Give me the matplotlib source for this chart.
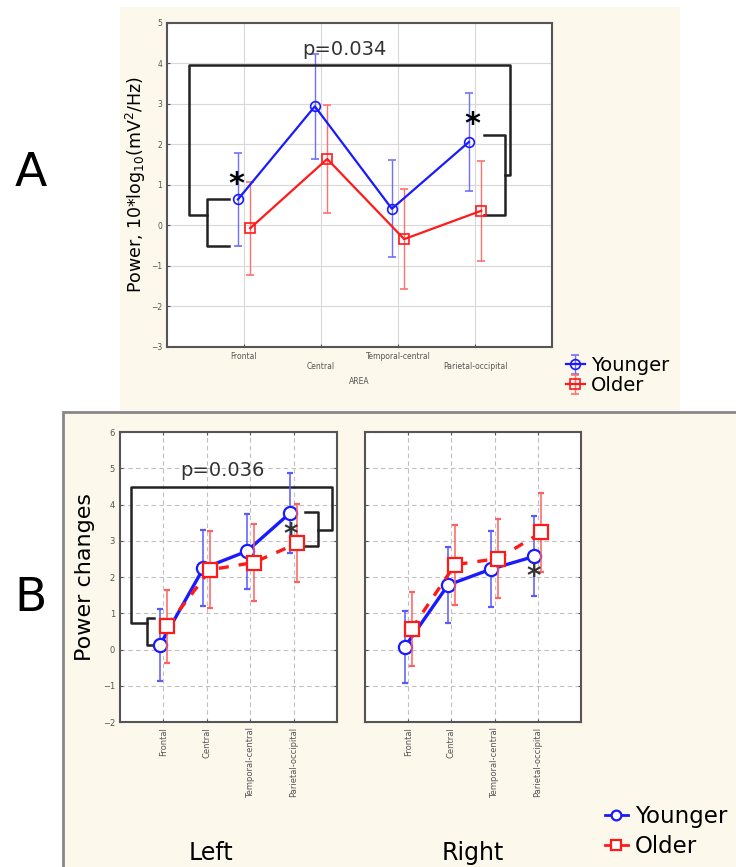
import numpy as np
import matplotlib
matplotlib.use('Agg')
import matplotlib.pyplot as plt
from matplotlib.patches import Rectangle
from matplotlib.lines import Line2D

plt.rcParams['font.family'] = ['DejaVu Sans']

# data
areas = ['Frontal', 'Central', 'Temporal-central', 'Parietal-occipital']
a_young = [0.64, 2.94, 0.41, 2.06]
a_young_err = [1.15, 1.30, 1.20, 1.20]
a_old = [-0.07, 1.64, -0.34, 0.36]
a_old_err = [1.15, 1.33, 1.23, 1.24]

bl_young = [0.12, 2.24, 2.71, 3.77]
bl_young_err = [1.00, 1.05, 1.03, 1.10]
bl_old = [0.64, 2.20, 2.40, 2.93]
bl_old_err = [1.00, 1.06, 1.07, 1.08]

br_young = [0.07, 1.78, 2.22, 2.57]
br_young_err = [1.00, 1.05, 1.05, 1.10]
br_old = [0.57, 2.34, 2.51, 3.23]
br_old_err = [1.03, 1.10, 1.10, 1.10]

cream = '#fdf8ec'
blue = '#1a1aff'
red = '#ff1a1a'
tick_col = '#555555'

fig = plt.figure(figsize=(7.36, 8.67), dpi=100)
fig.patches.append(Rectangle((0.163, 0.527), 0.761, 0.465, transform=fig.transFigure,
                             facecolor=cream, edgecolor='none', zorder=-10))
fig.patches.append(Rectangle((0.0856, -0.01), 0.93, 0.5348, transform=fig.transFigure,
                             facecolor=cream, edgecolor='#888888', lw=2, zorder=-10))

x = np.arange(1, 5)
off = 0.08

# ---------- panel A
axA = fig.add_axes([0.227, 0.600, 0.523, 0.3735])
axA.grid(True, color='#d8d8d8', lw=0.8)
axA.set_axisbelow(True)
ey = axA.errorbar(x - off, a_young, yerr=a_young_err, color=blue, marker='o', ms=7,
                  mfc='none', mew=1.2, lw=1.6, ecolor='#7070ff', elinewidth=1.0,
                  capsize=3, label='Younger')
eo = axA.errorbar(x + off, a_old, yerr=a_old_err, color=red, marker='s', ms=7,
                  mfc='none', mew=1.2, lw=1.6, ecolor='#ff7070', elinewidth=1.0,
                  capsize=3, label='Older')
axA.set_xlim(0, 5)
axA.set_ylim(-3, 5)
axA.set_yticks(range(-3, 6))
axA.set_xticks(x)
axA.set_xticklabels(['Frontal', '\nCentral', 'Temporal-central', '\nParietal-occipital'])
axA.tick_params(labelsize=5.5, colors=tick_col, length=2, direction='in')
axA.set_xlabel('AREA', fontsize=5.5, color=tick_col, labelpad=4)
axA.set_ylabel('Power, 10*log$_{10}$(mV$^2$/Hz)', fontsize=12.5, labelpad=2)
for s in axA.spines.values():
    s.set_color('#555555')
    s.set_linewidth(1.5)

bk = dict(color='#222222', lw=1.8, solid_joinstyle='round')
axA.plot([0.52, 0.29, 0.29, 4.45, 4.45, 4.39], [0.26, 0.26, 3.96, 3.96, 1.25, 1.25], **bk)
axA.plot([0.80, 0.52, 0.52, 0.80], [0.65, 0.65, -0.52, -0.52], **bk)
axA.plot([4.12, 4.39, 4.39, 4.12], [2.23, 2.23, 0.26, 0.26], **bk)
axA.text(2.3, 4.35, 'p=0.034', fontsize=14, ha='center', va='center', color='#333333')
axA.text(0.9, 1.0, '*', fontsize=22, fontweight='bold', ha='center', va='center')
axA.text(3.96, 2.5, '*', fontsize=22, fontweight='bold', ha='center', va='center')

fig.legend([ey, eo], ['Younger', 'Older'], loc='upper left', bbox_to_anchor=(0.75, 0.605),
           frameon=False, fontsize=14, handlelength=1.0, handletextpad=0.3,
           labelspacing=0.05, borderpad=0.2)

# ---------- panel B
def panel(ax, yv, ye, ov, oe):
    ax.set_facecolor('white')
    ax.grid(True, color='#c0c0c0', lw=0.8, ls=(0, (4, 3)))
    ax.set_axisbelow(True)
    ax.errorbar(x - off, yv, yerr=ye, color=blue, marker='o', ms=9.5, mfc='white',
                mew=1.6, lw=2.4, ecolor='#5a5aff', elinewidth=1.1, capsize=2.5, zorder=3)
    ax.errorbar(x + off, ov, yerr=oe, color=red, marker='s', ms=9.5, mfc='white',
                mew=1.6, lw=2.4, ls=(0, (3, 3)), ecolor='#ff6060', elinewidth=1.1,
                capsize=2.5, zorder=4)
    ax.set_xlim(0, 5)
    ax.set_ylim(-2, 6)
    ax.set_yticks(range(-2, 7))
    ax.set_xticks(x)
    ax.set_xticklabels(areas, rotation=90, fontsize=6, color=tick_col)
    ax.tick_params(labelsize=6, colors=tick_col, length=2, direction='in',
                   top=True, right=True)
    for s in ax.spines.values():
        s.set_color('#555555')
        s.set_linewidth(1.5)

axL = fig.add_axes([0.163, 0.1672, 0.295, 0.3345])
panel(axL, bl_young, bl_young_err, bl_old, bl_old_err)
axL.set_ylabel('Power changes', fontsize=16, labelpad=6)
axL.plot([0.78, 0.62, 0.62, 0.78], [0.87, 0.87, 0.12, 0.12], **bk)
axL.plot([0.62, 0.25, 0.25, 4.88, 4.88, 4.56], [0.72, 0.72, 4.49, 4.49, 3.29, 3.29], **bk)
axL.plot([4.26, 4.56, 4.56, 4.26], [3.80, 3.80, 2.85, 2.85], **bk)
axL.text(2.37, 4.95, 'p=0.036', fontsize=14, ha='center', va='center', color='#333333')
axL.text(3.93, 3.15, '*', fontsize=20, fontweight='bold', ha='center', va='center',
         color='#333333', zorder=5)
axL.text(0.42, -0.45, 'Left', transform=axL.transAxes, fontsize=17, ha='center', va='center')

axR = fig.add_axes([0.496, 0.1672, 0.2935, 0.3345])
panel(axR, br_young, br_young_err, br_old, br_old_err)
axR.set_yticklabels([])
axR.text(3.9, 2.0, '*', fontsize=20, fontweight='bold', ha='center', va='center',
         color='#333333', zorder=5)
axR.text(0.5, -0.45, 'Right', transform=axR.transAxes, fontsize=17, ha='center', va='center')

hy = Line2D([], [], color=blue, marker='o', ms=7, mfc='white', mew=1.6, lw=2)
ho = Line2D([], [], color=red, marker='s', ms=7, mfc='white', mew=1.6, lw=2)
fig.legend([hy, ho], ['Younger', 'Older'], loc='lower left', bbox_to_anchor=(0.80, -0.008),
           frameon=False, fontsize=16.5, handlelength=1.0, handletextpad=0.3,
           labelspacing=0.3, borderpad=0.2)

fig.text(0.042, 0.80, 'A', fontsize=34, ha='center', va='center')
fig.text(0.042, 0.31, 'B', fontsize=34, ha='center', va='center')

fig.savefig('out.png', dpi=100)
